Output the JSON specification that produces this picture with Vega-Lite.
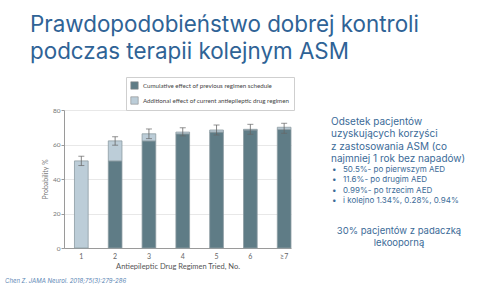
{
  "$schema": "https://vega.github.io/schema/vega-lite/v6.json",
  "width": 227,
  "height": 138,
  "autosize": "none",
  "padding": {"left": 64, "top": 110, "right": 189, "bottom": 52},
  "background": "white",
  "config": {
    "view": {"stroke": null},
    "font": "Lato",
    "axisY": {
      "values": [0, 10, 20, 30, 40, 50, 60, 70, 80],
      "tickCount": 8,
      "labelOverlap": false,
      "gridColor": "#e8e8e8",
      "domainColor": "#9a9a9a",
      "tickColor": "#9a9a9a",
      "tickSize": 3,
      "labelColor": "#777",
      "labelFontSize": 6.5,
      "labelPadding": 1,
      "titleColor": "#777",
      "titleFontSize": 7,
      "titleFontWeight": "normal",
      "titlePadding": 4
    },
    "axisX": {
      "labelAngle": 0,
      "ticks": false,
      "domainColor": "#9a9a9a",
      "labelColor": "#666",
      "labelFontSize": 7,
      "labelPadding": 4,
      "titleColor": "#555",
      "titleFontSize": 7.5,
      "titleFontWeight": "normal",
      "titlePadding": 3
    }
  },
  "title": {
    "text": ["Prawdopodobieństwo dobrej kontroli", "podczas terapii kolejnym ASM"],
    "anchor": "start",
    "frame": "group",
    "font": "Inter",
    "fontSize": 22.4,
    "fontWeight": "normal",
    "color": "#2f6396",
    "lineHeight": 27,
    "dx": -34,
    "offset": 13
  },
  "datasets": {
    "bars": [
      {"regimen": "1", "segment": "Additional effect of current antiepileptic drug regimen", "start": 0, "end": 50.5},
      {"regimen": "2", "segment": "Cumulative effect of previous regimen schedule", "start": 0, "end": 50.5},
      {"regimen": "2", "segment": "Additional effect of current antiepileptic drug regimen", "start": 50.5, "end": 62.1},
      {"regimen": "3", "segment": "Cumulative effect of previous regimen schedule", "start": 0, "end": 62.1},
      {"regimen": "3", "segment": "Additional effect of current antiepileptic drug regimen", "start": 62.1, "end": 66.2},
      {"regimen": "4", "segment": "Cumulative effect of previous regimen schedule", "start": 0, "end": 66.2},
      {"regimen": "4", "segment": "Additional effect of current antiepileptic drug regimen", "start": 66.2, "end": 67.2},
      {"regimen": "5", "segment": "Cumulative effect of previous regimen schedule", "start": 0, "end": 67.2},
      {"regimen": "5", "segment": "Additional effect of current antiepileptic drug regimen", "start": 67.2, "end": 68.4},
      {"regimen": "6", "segment": "Cumulative effect of previous regimen schedule", "start": 0, "end": 68.4},
      {"regimen": "6", "segment": "Additional effect of current antiepileptic drug regimen", "start": 68.4, "end": 68.8},
      {"regimen": "≥7", "segment": "Cumulative effect of previous regimen schedule", "start": 0, "end": 68.8},
      {"regimen": "≥7", "segment": "Additional effect of current antiepileptic drug regimen", "start": 68.8, "end": 70.0}
    ],
    "errors": [
      {"regimen": "1", "lo": 47.8, "hi": 53.2},
      {"regimen": "2", "lo": 59.6, "hi": 64.5},
      {"regimen": "3", "lo": 63.4, "hi": 69.0},
      {"regimen": "4", "lo": 65.0, "hi": 69.7},
      {"regimen": "5", "lo": 65.5, "hi": 71.3},
      {"regimen": "6", "lo": 65.9, "hi": 71.7},
      {"regimen": "≥7", "lo": 66.5, "hi": 72.3}
    ],
    "para": [
      {"text": ["Odsetek pacjentów", "uzyskujących korzyści", "z zastosowania ASM (co", "najmniej 1 rok bez napadów)"]}
    ],
    "bullets": [
      {"text": ["•", "•", "•", "•"], "body": ["50.5%- po pierwszym AED", "11.6%- po drugim AED", "0.99%- po trzecim AED", "i kolejno 1.34%, 0.28%, 0.94%"]}
    ],
    "note": [
      {"text": ["30% pacjentów z padaczką", "lekooporną"]}
    ],
    "cite": [
      {"text": "Chen Z. JAMA Neurol. 2018;75(3):279-286"}
    ]
  },
  "layer": [
    {
      "data": {"name": "bars"},
      "mark": {"type": "bar", "stroke": "#8d9ca2", "strokeWidth": 0.8},
      "encoding": {
        "x": {
          "field": "regimen",
          "type": "nominal",
          "sort": ["1", "2", "3", "4", "5", "6", "≥7"],
          "title": "Antiepileptic Drug Regimen Tried, No.",
          "scale": {"paddingInner": 0.595, "paddingOuter": 0.155, "align": 1}
        },
        "y": {
          "field": "start",
          "type": "quantitative",
          "title": "Probability %",
          "scale": {"domain": [0, 80], "nice": false},
          "axis": {"values": [0, 10, 20, 30, 40, 50, 60, 70, 80]}
        },
        "y2": {"field": "end"},
        "color": {
          "field": "segment",
          "type": "nominal",
          "scale": {
            "domain": ["Cumulative effect of previous regimen schedule", "Additional effect of current antiepileptic drug regimen"],
            "range": ["#5f7c86", "#bccdd8"]
          },
          "legend": {
            "title": null,
            "orient": "none",
            "legendX": 62,
            "legendY": -33,
            "direction": "vertical",
            "strokeColor": "#cfcfcf",
            "fillColor": "white",
            "padding": 4,
            "symbolType": "square",
            "symbolSize": 55,
            "symbolStrokeColor": "#888",
            "symbolStrokeWidth": 0.6,
            "labelFontSize": 6.2,
            "labelColor": "#444",
            "labelLimit": 300,
            "rowPadding": 4
          }
        },
        "order": {"field": "start", "type": "quantitative"}
      }
    },
    {
      "data": {"name": "errors"},
      "mark": {"type": "errorbar", "ticks": {"size": 6, "color": "#666", "strokeWidth": 0.8}, "rule": {"color": "#666", "strokeWidth": 0.8}},
      "encoding": {
        "x": {"field": "regimen", "type": "nominal", "sort": ["1", "2", "3", "4", "5", "6", "≥7"], "title": "Antiepileptic Drug Regimen Tried, No."},
        "y": {"field": "lo", "type": "quantitative", "title": "Probability %", "axis": {"values": [0, 10, 20, 30, 40, 50, 60, 70, 80]}},
        "y2": {"field": "hi"}
      }
    },
    {
      "data": {"name": "para"},
      "mark": {"type": "text", "align": "left", "baseline": "top", "font": "Inter", "fontSize": 10, "lineHeight": 12.3, "color": "#3b6b98"},
      "encoding": {"text": {"field": "text"}, "x": {"value": 267}, "y": {"value": 7}}
    },
    {
      "data": {"name": "bullets"},
      "mark": {"type": "text", "align": "left", "baseline": "top", "font": "Inter", "fontSize": 8, "lineHeight": 10.4, "color": "#3b6b98"},
      "encoding": {"text": {"field": "text"}, "x": {"value": 268}, "y": {"value": 56}}
    },
    {
      "data": {"name": "bullets"},
      "mark": {"type": "text", "align": "left", "baseline": "top", "font": "Inter", "fontSize": 8, "lineHeight": 10.4, "color": "#3b6b98"},
      "encoding": {"text": {"field": "body"}, "x": {"value": 279}, "y": {"value": 56}}
    },
    {
      "data": {"name": "note"},
      "mark": {"type": "text", "align": "center", "baseline": "top", "font": "Inter", "fontSize": 9.5, "lineHeight": 11.6, "color": "#3b6b98"},
      "encoding": {"text": {"field": "text"}, "x": {"value": 335}, "y": {"value": 116}}
    },
    {
      "data": {"name": "cite"},
      "mark": {"type": "text", "align": "left", "baseline": "middle", "font": "Inter", "fontSize": 6, "fontStyle": "italic", "color": "#5b86b4"},
      "encoding": {"text": {"field": "text"}, "x": {"value": -59}, "y": {"value": 171}}
    }
  ]
}
